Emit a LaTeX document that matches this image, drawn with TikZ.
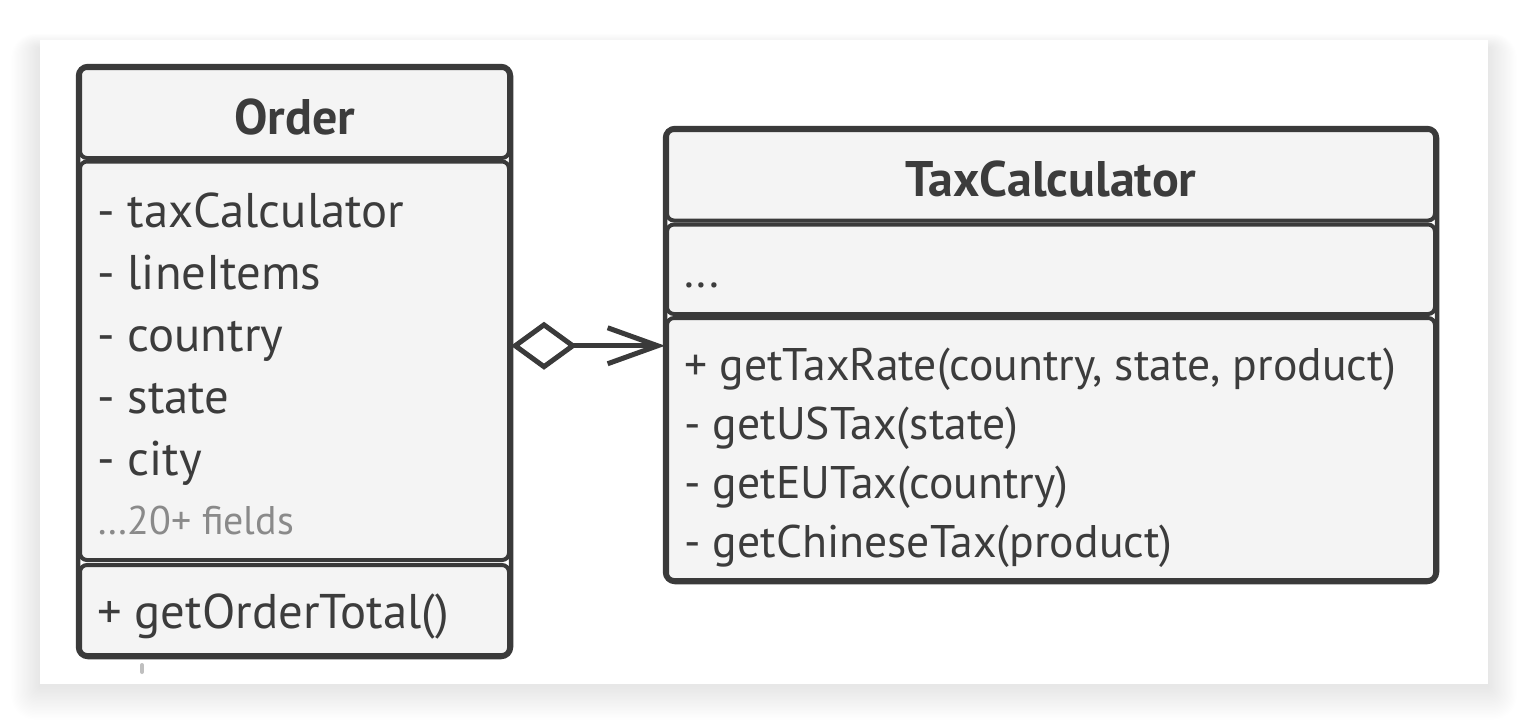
\documentclass[tikz,border=0pt]{standalone}
\usepackage{fontspec}
\setmainfont{PT Sans}
\usetikzlibrary{arrows.meta}
\usetikzlibrary{fit}
\definecolor{LineGray}{RGB}{58,58,58}
\definecolor{BoxFill}{RGB}{244,244,244}
\definecolor{TextGray}{RGB}{60,60,60}
\definecolor{NoteGray}{RGB}{138,138,138}
\tikzstyle{Part}=[draw=LineGray,fill=BoxFill,line width=4pt,rounded corners=7pt,inner sep=0pt]
\tikzstyle{Frame}=[draw=LineGray,line width=4.5pt,rounded corners=10pt,inner sep=0pt]
\tikzstyle{ClassName}=[text=TextGray,inner sep=0pt,font=\fontsize{50}{54}\selectfont\bfseries]
\tikzstyle{OrdText}=[text=TextGray,inner sep=0pt,anchor=base west,font=\fontsize{48.7}{52}\selectfont]
\tikzstyle{TaxText}=[text=TextGray,inner sep=0pt,anchor=base west,font=\fontsize{45.7}{50}\selectfont]
\tikzstyle{AggLine}=[LineGray,line width=5pt]

\begin{document}
\begin{tikzpicture}[x=1pt,y=-1pt]
    \useasboundingbox (0,0) rectangle (1528,724);
    % card with soft shadow
    \foreach \s in {1,...,24}
        \fill[black,opacity=0.005,rounded corners=\s pt] (40-\s*1.2,40-\s*0.6+8) rectangle (1488+\s*1.2,684+\s*1.4+2);
    \fill[white] (40,40) rectangle (1488,684);
    % Order
    \node[Part,minimum width=429pt,minimum height=90pt](ordhead)at(294.5,113){};
    \node[Part,minimum width=429pt,minimum height=398.5pt](ordfields)at(294.5,360.75){};
    \node[Part,minimum width=429pt,minimum height=90pt](ordmeth)at(294.5,610){};
    \node[Frame,fit=(ordhead)(ordfields)(ordmeth)](ord){};
    \node[ClassName,anchor=base](ordname)at(294.5,134){Order};
    \foreach \txt [count=\i from 0] in {- taxCalculator,- lineItems,- country,- state,- city}
        \node[OrdText](ordf\i)at(97,227+62*\i){\txt};
    \node[OrdText,text=NoteGray,font=\fontsize{40}{44}\selectfont](ordmore)at(97,534){…20+ fields};
    \node[OrdText](ordm0)at(97,628){+ getOrderTotal()};
    % TaxCalculator
    \node[Part,minimum width=768pt,minimum height=90.5pt](taxhead)at(1051,175.25){};
    \node[Part,minimum width=768pt,minimum height=89.5pt](taxattr)at(1051,269.25){};
    \node[Part,minimum width=768pt,minimum height=262pt](taxmeth)at(1051,449){};
    \node[Frame,fit=(taxhead)(taxattr)(taxmeth)](tax){};
    \node[ClassName,anchor=base](taxname)at(1051,196){TaxCalculator};
    \node[TaxText](taxa0)at(684,287){...};
    \foreach \txt [count=\i from 0] in {{+ getTaxRate(country, state, product)},- getUSTax(state),- getEUTax(country),- getChineseTax(product)}
        \node[TaxText](taxm\i)at(684,380+59.3*\i){\txt};
    % aggregation
    \draw[AggLine,{Diamond[open,length=66pt,width=48pt]}-{Straight Barb[length=50pt,width=36pt]}]
        ([yshift=15pt]ordfields.east)--([yshift=15pt]ordfields.east-|taxmeth.west);
    \draw[line width=4pt,line cap=round,black!25](142,665)--(142,672);
\end{tikzpicture}
\end{document}
